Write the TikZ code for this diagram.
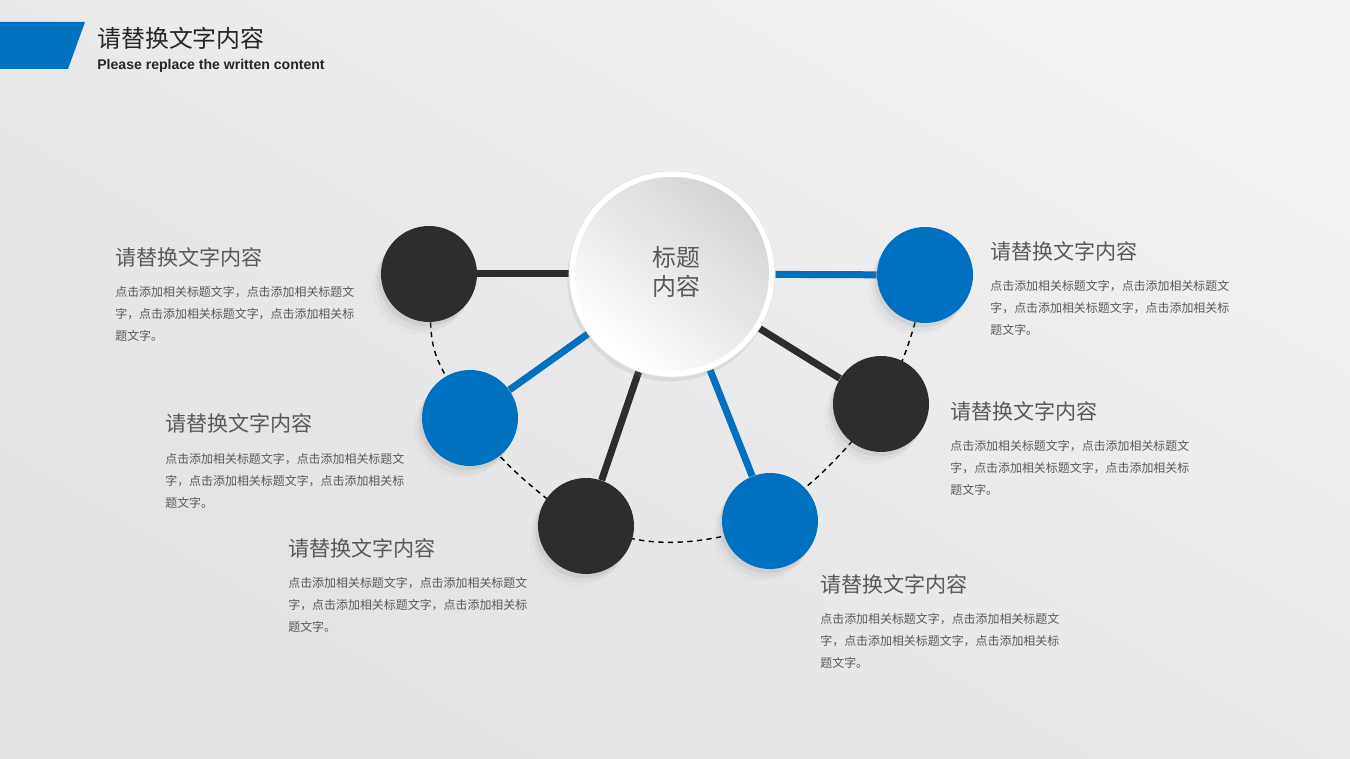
\documentclass[tikz,border=0pt]{standalone}
\usepackage{fontspec}
\setmainfont{Liberation Sans}
\newfontfamily\cjk{Noto Sans CJK SC}
\usetikzlibrary{shadows,backgrounds}
\definecolor{nodeblue}{RGB}{0,112,192}
\definecolor{nodedark}{RGB}{45,45,45}
\definecolor{textgray}{RGB}{89,89,89}
\definecolor{headgray}{RGB}{38,38,38}
\definecolor{bgtop}{RGB}{242,242,243}
\definecolor{bgbot}{RGB}{225,225,227}
\newcommand{\titletext}{请替换文字内容}
\newcommand{\bodytext}{点击添加相关标题文字，点击添加相关标题文\\字，点击添加相关标题文字，点击添加相关标\\题文字。}

\begin{document}
\begin{tikzpicture}[x=0.02cm, y=-0.02cm,
  soft shadow/.style={drop shadow={shadow xshift=-1.5pt, shadow yshift=-2.5pt, opacity=.12},
                      drop shadow={shadow xshift=-3pt, shadow yshift=-5pt, opacity=.08},
                      drop shadow={shadow xshift=-5pt, shadow yshift=-7pt, opacity=.04}},
  ball/.style={circle, minimum size=1.92cm, inner sep=0pt, soft shadow},
  spoke/.style={line width=0.14cm},
  rim/.style={black, line width=0.8pt, dash pattern=on 3pt off 2.5pt},
  head/.style={anchor=west, inner sep=0pt, text=textgray, font=\cjk\fontsize{12pt}{14pt}\selectfont},
  blurb/.style={anchor=north west, inner sep=0pt, align=left, text=textgray, font=\cjk\fontsize{6.8pt}{12.5pt}\selectfont}]

  % background
  \begin{scope}[on background layer]
    \shade[top color=bgtop, bottom color=bgbot, shading angle=-30] (0,0) rectangle (1350,759);
  \end{scope}
  \useasboundingbox (0,0) rectangle (1350,759);

  % header
  \fill[nodeblue] (0,22) -- (85,22) -- (68,69) -- (0,69) -- cycle;
  \node[anchor=west, inner sep=0pt, text=headgray, font=\cjk\fontsize{13.6pt}{16pt}\selectfont] (heading) at (97,38) {\titletext};
  \node[anchor=west, inner sep=0pt, text=headgray, font=\bfseries\fontsize{8pt}{10pt}\selectfont] (subheading) at (97,66) {Please replace the written content};

  % hub
  \node[circle, minimum size=4.12cm, inner sep=0pt, fill=white, draw=black!10, line width=0.4pt,
        drop shadow={shadow xshift=-1pt, shadow yshift=-2.5pt, opacity=.15}] (hub) at (672,274) {};
  \node[circle, minimum size=3.88cm, inner sep=0pt, top color=black!17, bottom color=white, shading angle=-40] (hubface) at (hub) {};
  \node[align=center, inner sep=0pt, text=textgray, font=\cjk\fontsize{13.6pt}{16.5pt}\selectfont] (hublabel) at (676,272) {标题\\内容};

  % outer circles
  \node[ball, fill=nodedark] (n1) at (429,274) {};
  \node[ball, fill=nodeblue] (n2) at (470,418) {};
  \node[ball, fill=nodedark] (n3) at (586,526) {};
  \node[ball, fill=nodeblue] (n4) at (770,521) {};
  \node[ball, fill=nodedark] (n5) at (881,404) {};
  \node[ball, fill=nodeblue] (n6) at (925,275) {};

  % connectors
  \begin{scope}[on background layer]
    \draw[spoke, nodedark] (hub) -- (n1);
    \draw[spoke, nodeblue] (hub) -- (n2);
    \draw[spoke, nodedark] (hub) -- (n3);
    \draw[spoke, nodeblue] (hub) -- (n4);
    \draw[spoke, nodedark] (hub) -- (n5);
    \draw[spoke, nodeblue] (hub) -- (n6);
    \draw[rim] (n1) to[bend right=14] (n2) to[bend right=12] (n3) to[bend right=24] (n4)
      to[bend right=12] (n5) to[bend right=12] (n6);
  \end{scope}

  % texts
  \node[head] (t1) at (115,257) {\titletext};
  \node[blurb] (d1) at (115,286) {\bodytext};
  \node[head] (t2) at (165,423) {\titletext};
  \node[blurb] (d2) at (165,453) {\bodytext};
  \node[head] (t3) at (288,548) {\titletext};
  \node[blurb] (d3) at (288,577) {\bodytext};
  \node[head] (t4) at (820,584) {\titletext};
  \node[blurb] (d4) at (820,613) {\bodytext};
  \node[head] (t5) at (950,411) {\titletext};
  \node[blurb] (d5) at (950,440) {\bodytext};
  \node[head] (t6) at (990,251) {\titletext};
  \node[blurb] (d6) at (990,280) {\bodytext};
\end{tikzpicture}
\end{document}
